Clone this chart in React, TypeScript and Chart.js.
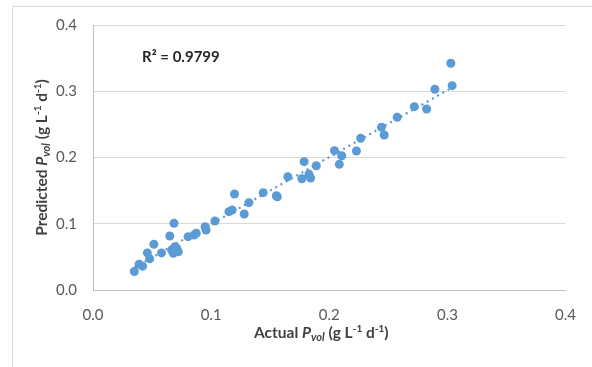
import React, { useEffect, useRef } from "react";
import { Chart, registerables } from "chart.js";

Chart.register(...registerables);

const actual = [0.035, 0.039, 0.042, 0.046, 0.048, 0.0515, 0.058, 0.065, 0.0686, 0.0666, 0.0708, 0.0722, 0.068, 0.0695, 0.0805, 0.0855, 0.0874, 0.0949, 0.0957, 0.1032, 0.1151, 0.1178, 0.1198, 0.128, 0.132, 0.1441, 0.1552, 0.156, 0.1649, 0.1768, 0.1787, 0.1828, 0.1842, 0.189, 0.2044, 0.2105, 0.2085, 0.223, 0.2266, 0.2442, 0.2465, 0.2575, 0.272, 0.2824, 0.2894, 0.3029, 0.304];
const predicted = [0.028, 0.039, 0.036, 0.056, 0.047, 0.069, 0.056, 0.0815, 0.1007, 0.0604, 0.063, 0.0578, 0.0554, 0.0654, 0.0805, 0.083, 0.0856, 0.0955, 0.0906, 0.1042, 0.1182, 0.1208, 0.1449, 0.1147, 0.1318, 0.1469, 0.1423, 0.1408, 0.171, 0.168, 0.1937, 0.175, 0.169, 0.1876, 0.2103, 0.2027, 0.1897, 0.2098, 0.229, 0.2456, 0.234, 0.2607, 0.2767, 0.2732, 0.303, 0.3422, 0.3084];
const xTicks = [0, 0.1, 0.2, 0.3, 0.4];
const yTicks = [0, 0.1, 0.2, 0.3, 0.4];
const r2Label = "R² = 0.9799";

const BLUE = "#5B9BD5";
const FONT = "Lato, 'Open Sans', sans-serif";

function regression(xs: number[], ys: number[]) {
  const n = xs.length;
  const mx = xs.reduce((a, b) => a + b, 0) / n;
  const my = ys.reduce((a, b) => a + b, 0) / n;
  let sxy = 0, sxx = 0;
  for (let i = 0; i < n; i++) {
    sxy += (xs[i] - mx) * (ys[i] - my);
    sxx += (xs[i] - mx) ** 2;
  }
  const slope = sxy / sxx;
  return { slope, intercept: my - slope * mx };
}

type Seg = { t: string; f: string; dy?: number };

function drawSegs(ctx: CanvasRenderingContext2D, segs: Seg[], cx: number, cy: number) {
  let total = 0;
  for (const s of segs) {
    ctx.font = s.f;
    total += ctx.measureText(s.t).width;
  }
  let x = cx - total / 2;
  ctx.textAlign = "left";
  ctx.textBaseline = "alphabetic";
  for (const s of segs) {
    ctx.font = s.f;
    ctx.fillText(s.t, x, cy + (s.dy || 0));
    x += ctx.measureText(s.t).width;
  }
}

const B = `bold 15.5px ${FONT}`;
const BI = `italic bold 15.5px ${FONT}`;
const BIs = `italic bold 11px ${FONT}`;
const Bs = `bold 10px ${FONT}`;

const unitSegs: Seg[] = [
  { t: " (g L", f: B },
  { t: "-1", f: Bs, dy: -6 },
  { t: " d", f: B },
  { t: "-1", f: Bs, dy: -6 },
  { t: ")", f: B },
];

const decorPlugin = {
  id: "decor",
  beforeDraw(chart: any) {
    const ctx = chart.ctx as CanvasRenderingContext2D;
    ctx.save();
    ctx.fillStyle = "#ffffff";
    ctx.fillRect(0, 0, chart.width, chart.height);
    ctx.strokeStyle = "#D9D9D9";
    ctx.lineWidth = 1;
    ctx.beginPath();
    ctx.moveTo(12.5, chart.height);
    ctx.lineTo(12.5, 6.5);
    ctx.lineTo(chart.width, 6.5);
    ctx.stroke();
    ctx.restore();
  },
  afterDraw(chart: any) {
    const ctx = chart.ctx as CanvasRenderingContext2D;
    const { left, right, top, bottom } = chart.chartArea;
    ctx.save();
    ctx.fillStyle = "#404040";
    drawSegs(
      ctx,
      [
        { t: "Actual ", f: B },
        { t: "P", f: BI },
        { t: "vol", f: BIs, dy: 3 },
        ...unitSegs,
      ],
      (left + right) / 2 - 8,
      338
    );
    ctx.save();
    ctx.translate(47, (top + bottom) / 2);
    ctx.rotate(-Math.PI / 2);
    drawSegs(
      ctx,
      [
        { t: "Predicted ", f: B },
        { t: "P", f: BI },
        { t: "vol", f: BIs, dy: 3 },
        ...unitSegs,
      ],
      0,
      0
    );
    ctx.restore();
    const xs = chart.scales.x;
    const ys = chart.scales.y;
    ctx.font = `bold 15px ${FONT}`;
    ctx.fillStyle = "#262626";
    ctx.textAlign = "left";
    ctx.textBaseline = "middle";
    ctx.fillText(r2Label, xs.getPixelForValue(0.0415), ys.getPixelForValue(0.352));
    ctx.restore();
  },
};

export default function App() {
  const ref = useRef<HTMLCanvasElement | null>(null);
  useEffect(() => {
    if (!ref.current) return;
    const { slope, intercept } = regression(actual, predicted);
    const xmin = Math.min(...actual);
    const xmax = Math.max(...actual);
    const chart = new Chart(ref.current, {
      type: "scatter",
      data: {
        datasets: [
          {
            type: "line",
            label: "Trend",
            data: [
              { x: xmin, y: slope * xmin + intercept },
              { x: xmax, y: slope * xmax + intercept },
            ],
            borderColor: BLUE,
            borderWidth: 2.25,
            borderDash: [2, 4],
            pointRadius: 0,
            fill: false,
            order: 0,
          } as any,
          {
            label: "Pvol",
            data: actual.map((x, i) => ({ x, y: predicted[i] })),
            backgroundColor: BLUE,
            borderColor: BLUE,
            pointRadius: 4.5,
            pointBorderWidth: 0,
            order: 1,
          },
        ],
      },
      plugins: [decorPlugin],
      options: {
        animation: false,
        responsive: false,
        maintainAspectRatio: false,
        layout: { padding: { left: 0, right: 17, top: 25, bottom: 0 } },
        plugins: { legend: { display: false }, tooltip: { enabled: false } },
        scales: {
          x: {
            type: "linear",
            min: 0,
            max: 0.4,
            afterBuildTicks: (s: any) => {
              s.ticks = xTicks.map((v) => ({ value: v }));
            },
            afterFit: (s: any) => {
              s.height = 77;
            },
            grid: { display: false, drawTicks: false },
            border: { display: true, color: "#BFBFBF", width: 1 },
            ticks: {
              padding: 16,
              color: "#595959",
              font: { family: FONT, size: 15 },
              callback: (v: any) => Number(v).toFixed(1),
              maxRotation: 0,
            },
          },
          y: {
            type: "linear",
            min: 0,
            max: 0.4,
            afterBuildTicks: (s: any) => {
              s.ticks = yTicks.map((v) => ({ value: v }));
            },
            afterFit: (s: any) => {
              s.width = 93;
            },
            grid: { color: "#D9D9D9", drawTicks: false, lineWidth: 1 },
            border: { display: true, color: "#BFBFBF", width: 1 },
            ticks: {
              padding: 16,
              color: "#595959",
              font: { family: FONT, size: 15 },
              callback: (v: any) => Number(v).toFixed(1),
            },
          },
        },
      },
    });
    return () => chart.destroy();
  }, []);
  return (
    <div style={{ position: "fixed", left: 0, top: 0, width: 592, height: 367, background: "#fff" }}>
      <canvas ref={ref} width={592} height={367} style={{ width: 592, height: 367, display: "block" }} />
    </div>
  );
}
